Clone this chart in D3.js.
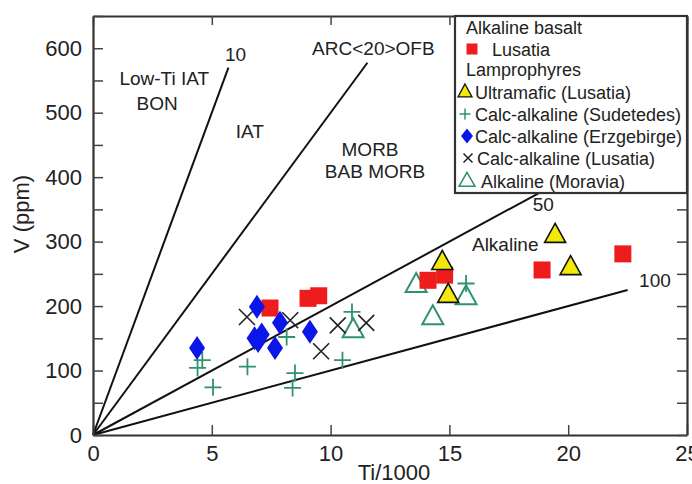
<!DOCTYPE html>
<html>
<head>
<meta charset="utf-8">
<script src="https://cdn.jsdelivr.net/npm/d3@7"></script>
<style>
  html, body { margin: 0; padding: 0; background: #fff; }
  svg { display: block; font-family: "Liberation Sans", Arial, Helvetica, sans-serif; }
</style>
</head>
<body>
<svg id="chart" width="692" height="484"></svg>
<script>
// Ti/1000 vs V (ppm) discrimination diagram (Shervais-type) with Ti/V ratio lines.

// Alkaline basalt
const alkBasaltLusatia = [[7.45, 197], [9.05, 212], [9.5, 216], [14.1, 240], [14.8, 248], [18.9, 256], [22.3, 281]];
// Lamprophyres
const ultramaficLusatia = [[14.7, 268], [14.95, 217], [19.45, 310], [20.1, 260]];
const calcAlkSudetedes = [[4.4, 104], [4.6, 116], [5.05, 74], [6.5, 106], [8.15, 152], [8.5, 96], [8.4, 73], [10.9, 191], [10.5, 116], [15.7, 235]];
const calcAlkErzgebirge = [[4.38, 135], [6.9, 199], [6.8, 150], [7.1, 156], [6.95, 146], [7.66, 135], [7.87, 174], [9.13, 160]];
const calcAlkLusatia = [[6.48, 183], [8.3, 178], [10.3, 170], [11.5, 174], [9.6, 130]];
const alkalineMoravia = [[10.95, 163], [13.6, 233], [14.3, 183], [15.7, 214]];

// Ti/V ratio lines and where each one stops
const ratioValues = [10, 20, 50, 100];
const ratioEndTi = [5.7, 11.55, 21, 22.5];

const xTicks = [0, 5, 10, 15, 20, 25];
const yTicks = [0, 100, 200, 300, 400, 500, 600];
const yMinorTicks = [0, 50, 100, 150, 200, 250, 300, 350, 400, 450, 500, 550, 600, 650];

const fieldLabels = [
  { text: "10", x: 6.0, y: 580 },
  { text: "ARC<20>OFB", x: 11.8, y: 590 },
  { text: "Low-Ti IAT", x: 3.0, y: 543 },
  { text: "BON", x: 2.7, y: 504 },
  { text: "IAT", x: 6.6, y: 460 },
  { text: "MORB", x: 11.66, y: 433 },
  { text: "BAB MORB", x: 11.87, y: 398 },
  { text: "50", x: 18.95, y: 348 },
  { text: "Alkaline", x: 17.35, y: 286 },
  { text: "100", x: 23.65, y: 230 }
];

const svg = d3.select("#chart");
const x = d3.scaleLinear().domain([0, 25]).range([93, 687]);
const y = d3.scaleLinear().domain([0, 650]).range([435, 16]);

const frameColor = "#333";
const red = "#ee1c1c", yellow = "#f2e80a", blue = "#0b16e8", green = "#2f946a";

// marker shapes, sized by half-width/half-height in pixels
function squarePath(r) { return `M${-r},${-r}H${r}V${r}H${-r}Z`; }
function trianglePath(w, h) { return `M0,${-h * 0.62}L${w},${h * 0.38}L${-w},${h * 0.38}Z`; }
function diamondPath(w, h) { return `M0,${-h}L${w},0L0,${h}L${-w},0Z`; }
function plusPath(r) { return `M${-r},0H${r}M0,${-r}V${r}`; }
function timesPath(r) { return `M${-r},${-r}L${r},${r}M${-r},${r}L${r},${-r}`; }

// ratio lines V = 1000 * Ti / ratio
const lines = svg.append("g");
ratioValues.forEach((r, i) => {
  const tEnd = ratioEndTi[i];
  lines.append("line")
    .attr("x1", x(0)).attr("y1", y(0))
    .attr("x2", x(tEnd)).attr("y2", y(1000 * tEnd / r))
    .attr("stroke", "#111").attr("stroke-width", 2);
});

// field labels
svg.append("g").selectAll("text").data(fieldLabels).join("text")
  .attr("x", d => x(d.x)).attr("y", d => y(d.y))
  .attr("text-anchor", "middle")
  .attr("font-size", 19).attr("fill", "#222")
  .text(d => d.text);

// data points
const pts = svg.append("g");
function plot(data, path, fill, stroke, sw) {
  pts.append("g").selectAll("path").data(data).join("path")
    .attr("transform", d => `translate(${x(d[0])},${y(d[1])})`)
    .attr("d", path)
    .attr("fill", fill).attr("stroke", stroke).attr("stroke-width", sw)
    .attr("stroke-linejoin", "miter");
}
plot(alkalineMoravia, trianglePath(10.5, 19), "none", green, 2);
plot(calcAlkSudetedes, plusPath(8.5), "none", green, 1.8);
plot(calcAlkLusatia, timesPath(8), "none", "#222", 1.6);
plot(alkBasaltLusatia, squarePath(8.5), red, "none", 0);
plot(ultramaficLusatia, trianglePath(10.5, 19), yellow, "#111", 1.6);
plot(calcAlkErzgebirge, diamondPath(8, 12), blue, "none", 0);

// axes with inward ticks on all four sides
const tickStyle = g => {
  g.selectAll(".tick line").attr("stroke", "#444").attr("stroke-width", 1.5);
  g.select(".domain").attr("stroke", frameColor).attr("stroke-width", 2.2);
  g.selectAll("text").attr("font-size", 22).attr("fill", "#222")
    .attr("font-family", "Liberation Sans, Arial, sans-serif");
};
svg.append("g").attr("transform", `translate(0,${y(0)})`)
  .call(d3.axisBottom(x).tickValues(xTicks).tickSizeInner(-10).tickSizeOuter(0).tickPadding(10))
  .call(tickStyle);
svg.append("g").attr("transform", `translate(0,${y(650)})`)
  .call(d3.axisTop(x).tickValues(xTicks).tickSizeInner(-9).tickSizeOuter(0).tickFormat(""))
  .call(tickStyle);
svg.append("g").attr("transform", `translate(${x(0)},0)`)
  .call(d3.axisLeft(y).tickValues(yMinorTicks).tickSizeInner(-10).tickSizeOuter(0).tickPadding(11)
    .tickFormat(d => yTicks.includes(d) ? d : ""))
  .call(tickStyle);
svg.append("g").attr("transform", `translate(${x(25)},0)`)
  .call(d3.axisRight(y).tickValues(yMinorTicks).tickSizeInner(-10).tickSizeOuter(0).tickFormat(""))
  .call(tickStyle);

// axis titles
svg.append("text").attr("x", 394).attr("y", 480).attr("text-anchor", "middle")
  .attr("font-size", 22).attr("fill", "#222").text("Ti/1000");
svg.append("text").attr("transform", "translate(29,214) rotate(-90)").attr("text-anchor", "middle")
  .attr("font-size", 22).attr("fill", "#222").text("V (ppm)");

// legend
const lg = svg.append("g");
const lgLeft = 455, lgTop = 16, lgRight = x(25), lgBottom = 193;
lg.append("rect").attr("x", lgLeft).attr("y", lgTop)
  .attr("width", lgRight - lgLeft).attr("height", lgBottom - lgTop)
  .attr("fill", "#fff").attr("stroke", frameColor).attr("stroke-width", 2.2);

const legendRows = [
  { label: "Alkaline basalt", cy: 27, tx: 466 },
  { label: "Lusatia", cy: 49, tx: 492, mx: 472, path: squarePath(5.5), fill: red, stroke: "none", sw: 0 },
  { label: "Lamprophyres", cy: 69, tx: 466 },
  { label: "Ultramafic (Lusatia)", cy: 92, tx: 475, mx: 465, path: trianglePath(7, 13), fill: yellow, stroke: "#111", sw: 1.3 },
  { label: "Calc-alkaline (Sudetedes)", cy: 114, tx: 475, mx: 465, path: plusPath(5.5), fill: "none", stroke: green, sw: 1.5 },
  { label: "Calc-alkaline (Erzgebirge)", cy: 136, tx: 475, mx: 467, path: diamondPath(6, 7.5), fill: blue, stroke: "none", sw: 0 },
  { label: "Calc-alkaline (Lusatia)", cy: 158, tx: 477, mx: 468, path: timesPath(4.5), fill: "none", stroke: "#222", sw: 1.5 },
  { label: "Alkaline (Moravia)", cy: 181, tx: 481, mx: 467, path: trianglePath(8, 14), fill: "none", stroke: green, sw: 1.5 }
];
legendRows.forEach(r => {
  if (r.path) {
    lg.append("path").attr("transform", `translate(${r.mx},${r.cy})`).attr("d", r.path)
      .attr("fill", r.fill).attr("stroke", r.stroke).attr("stroke-width", r.sw);
  }
  lg.append("text").attr("x", r.tx).attr("y", r.cy + 6.5)
    .attr("font-size", 18).attr("fill", "#222").text(r.label);
});
</script>
</body>
</html>
